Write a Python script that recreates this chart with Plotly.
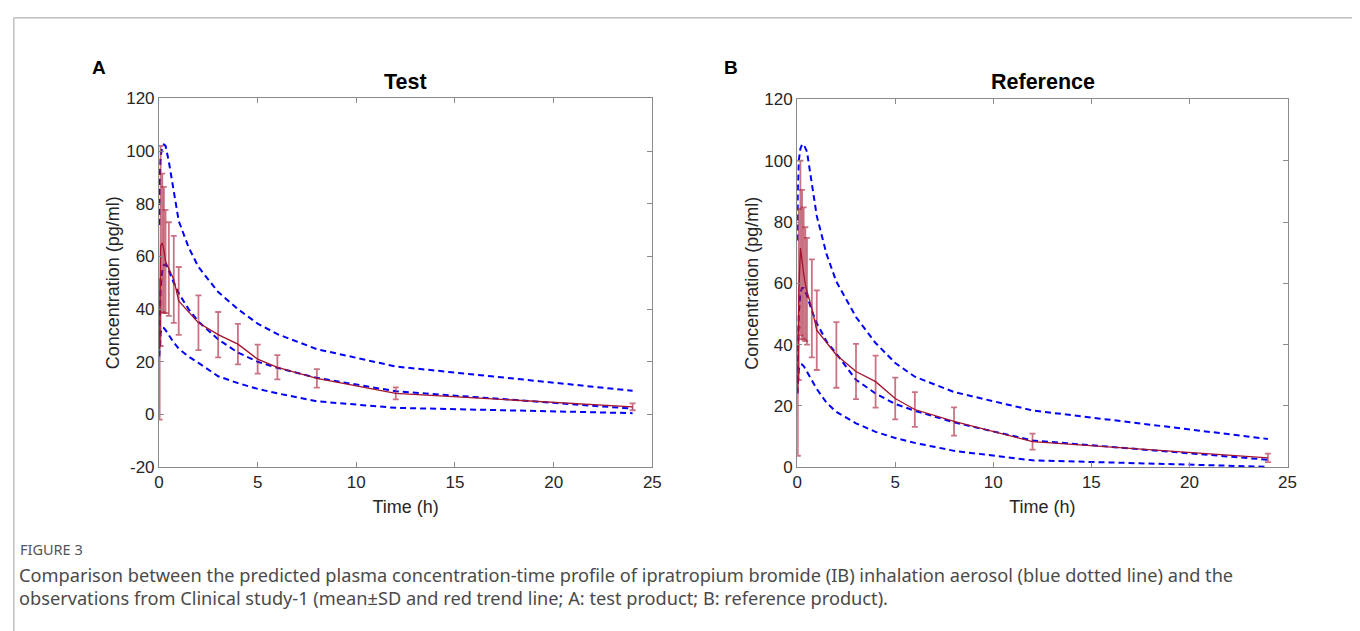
import plotly.graph_objects as go

# ---------------- data ----------------
# observations (mean, SD) - panel A (Test)
obs_t_A = [0.033, 0.083, 0.167, 0.25, 0.333, 0.5, 0.75, 1, 2, 3, 4, 5, 6, 8, 12, 24]
obs_mean_A = [24.7, 64.0, 65.2, 62.5, 58.1, 55.2, 51.3, 43.1, 34.8, 30.3, 26.7, 21.0, 17.9, 13.7, 8.0, 2.9]
obs_sd_A = [26.7, 38.0, 26.3, 23.9, 19.6, 17.8, 16.5, 12.9, 10.4, 8.6, 7.7, 5.5, 4.6, 3.5, 2.3, 1.3]

# observations (mean, SD) - panel B (Reference)
obs_t_B = [0.033, 0.083, 0.167, 0.25, 0.333, 0.417, 0.5, 0.75, 1, 2, 3, 4, 5, 6, 8, 12, 24]
obs_mean_B = [24.6, 56.3, 71.5, 66.2, 63.2, 59.7, 57.4, 51.8, 44.7, 36.6, 31.2, 27.9, 22.4, 18.8, 14.9, 8.3, 3.0]
obs_sd_B = [20.9, 27.9, 28.5, 24.3, 21.6, 18.6, 17.4, 16.0, 13.0, 10.7, 9.0, 8.5, 6.8, 5.7, 4.6, 2.6, 1.4]

# predicted profiles (upper, middle, lower)
sim_t = [0.017, 0.033, 0.083, 0.167, 0.25, 0.333, 0.5, 0.75, 1, 1.5, 2, 3, 4, 5, 6, 8, 12, 24]
sim_upper_A = [72, 88, 98, 101.5, 102.5, 102, 96, 84, 73.5, 63.5, 56, 46.5, 40, 34.5, 30.5, 24.8, 18.2, 9.0]
sim_mid_A = [26, 36, 48, 54.5, 56.8, 57, 54.5, 50, 46, 40, 35.3, 28.5, 23.5, 20, 17.7, 13.9, 8.8, 2.2]
sim_lower_A = [22, 27, 31, 33, 32.8, 32, 30, 27.3, 25, 22, 19.6, 14.5, 11.9, 9.7, 8.0, 5.0, 2.5, 0.5]

sim_upper_B = [74, 90, 100, 104, 105.3, 105.4, 103, 93, 82, 69.5, 60.5, 49, 40.5, 34, 29.5, 24.5, 18.5, 9.2]
sim_mid_B = [28, 38, 50, 57, 58.5, 58.5, 56, 51, 47, 41, 37, 28.5, 24, 20.6, 18.4, 14.6, 8.7, 2.4]
sim_lower_B = [24, 28.5, 32, 33.5, 33.5, 33, 31, 28, 25.5, 21, 18, 14.3, 11.5, 9.5, 7.9, 5.3, 2.2, 0.1]

x_ticks = [0, 5, 10, 15, 20, 25]
y_ticks_A = [-20, 0, 20, 40, 60, 80, 100, 120]
y_ticks_B = [0, 20, 40, 60, 80, 100, 120]

panel_titles = ["Test", "Reference"]
panel_letters = ["A", "B"]
x_title = "Time (h)"
y_title = "Concentration (pg/ml)"
caption_head = "FIGURE 3"
caption_lines = [
    "Comparison between the predicted plasma concentration-time profile of ipratropium bromide (IB) inhalation aerosol (blue dotted line) and the",
    "observations from Clinical study-1 (mean±SD and red trend line; A: test product; B: reference product).",
]

# ---------------- figure ----------------
W, H = 1360, 640
OFF = 8  # default body margin of the page
# observed mapping of the photographed page onto the picture
SX, BX = 0.991, 3.9
SY, BY = 0.974, 7.4
RED = "rgb(162,20,47)"
RED_ERR = "rgba(170,30,55,0.62)"
BLUE = "rgb(0,0,255)"
FONT = "Liberation Sans, Arial, sans-serif"
CAP_FONT = "Noto Sans, sans-serif"


def px_x(p):
    return ((p - BX) / SX - OFF) / W


def px_y(p):
    return 1 - ((p - BY) / SY - OFF) / H


fig = go.Figure()

panels = [
    (obs_t_A, obs_mean_A, obs_sd_A, sim_upper_A, sim_mid_A, sim_lower_A, "x", "y"),
    (obs_t_B, obs_mean_B, obs_sd_B, sim_upper_B, sim_mid_B, sim_lower_B, "x2", "y2"),
]
for t, m, sd, up, mid, lo, xa, ya in panels:
    for series in (up, mid, lo):
        fig.add_trace(go.Scatter(
            x=sim_t, y=series, mode="lines", xaxis=xa, yaxis=ya,
            line=dict(color=BLUE, width=2, dash="6px,4px"), showlegend=False,
            hoverinfo="skip"))
    fig.add_trace(go.Scatter(
        x=t, y=m, mode="lines", xaxis=xa, yaxis=ya,
        line=dict(color=RED, width=1.3), showlegend=False,
        error_y=dict(type="data", array=sd, visible=True, color=RED_ERR,
                     thickness=1.8, width=3)))

axis_common = dict(
    showgrid=False, zeroline=False, showline=True, linecolor="#8a8a8a", linewidth=1,
    mirror="ticks", ticks="inside", ticklen=5, tickcolor="#8a8a8a",
    tickfont=dict(family=FONT, size=17, color="#262626"),
)
title_font = dict(family=FONT, size=18, color="#262626")

fig.update_layout(
    width=W, height=H, margin=dict(l=0, r=0, t=0, b=0),
    paper_bgcolor="white", plot_bgcolor="white",
    xaxis=dict(domain=[px_x(158), px_x(652)], range=[0, 25], tickvals=x_ticks,
               ticktext=[str(v) for v in x_ticks],
               anchor="y", title=dict(text=x_title, font=title_font, standoff=8),
               **axis_common),
    yaxis=dict(domain=[px_y(467), px_y(97)], range=[-20, 120], tickvals=y_ticks_A,
               ticktext=[str(v) for v in y_ticks_A],
               anchor="x", title=dict(text=y_title, font=title_font, standoff=1),
               **axis_common),
    xaxis2=dict(domain=[px_x(797), px_x(1288)], range=[0, 25], tickvals=x_ticks,
                ticktext=[str(v) for v in x_ticks],
                anchor="y2", title=dict(text=x_title, font=title_font, standoff=8),
                **axis_common),
    yaxis2=dict(domain=[px_y(467), px_y(98)], range=[0, 120], tickvals=y_ticks_B,
                ticktext=[str(v) for v in y_ticks_B],
                anchor="x2", title=dict(text=y_title, font=title_font, standoff=1),
                **axis_common),
)

annotations = []
for title, cx in zip(panel_titles, [405, 1043]):
    annotations.append(dict(x=px_x(cx), y=px_y(80), xref="paper", yref="paper",
                            text="<b>%s</b>" % title, showarrow=False,
                            font=dict(family=FONT, size=21.5, color="black"),
                            xanchor="center", yanchor="middle"))
for letter, cx in zip(panel_letters, [98, 731]):
    annotations.append(dict(x=px_x(cx), y=px_y(66), xref="paper", yref="paper",
                            text="<b>%s</b>" % letter, showarrow=False,
                            font=dict(family=FONT, size=19, color="black"),
                            xanchor="center", yanchor="middle"))
annotations.append(dict(x=px_x(17), y=px_y(549), xref="paper", yref="paper",
                        text=caption_head, showarrow=False,
                        font=dict(family=CAP_FONT, size=14.5, color="#555555"),
                        xanchor="left", yanchor="middle"))
for line, cy in zip(caption_lines, [575, 598]):
    annotations.append(dict(x=px_x(16), y=px_y(cy), xref="paper", yref="paper",
                            text=line, showarrow=False,
                            font=dict(family=CAP_FONT, size=18.2, color="#4a4a4a"),
                            xanchor="left", yanchor="middle"))
fig.update_layout(annotations=annotations)

# outer frame (top edge, and left edge as far left as the page allows)
left_edge = 0.8 / W
fig.add_shape(type="line", xref="paper", yref="paper", x0=left_edge, x1=1, y0=px_y(16), y1=px_y(16),
              line=dict(color="#c0c0c0", width=1.5))
fig.add_shape(type="line", xref="paper", yref="paper", x0=left_edge, x1=left_edge, y0=px_y(16), y1=0,
              line=dict(color="#c0c0c0", width=1.5))

fig.write_html("out.html")
